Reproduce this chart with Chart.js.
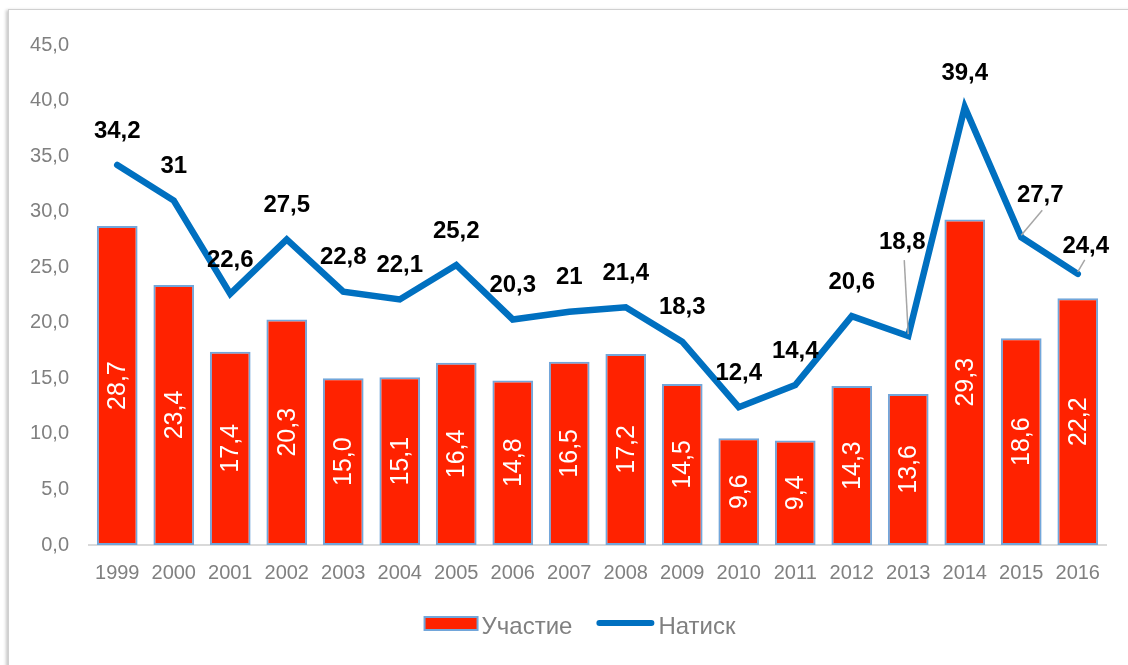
<!DOCTYPE html>
<html><head><meta charset="utf-8">
<script src="https://cdn.jsdelivr.net/npm/chart.js@4/dist/chart.umd.min.js"></script>
<style>
html,body{margin:0;padding:0;background:#fff;overflow:hidden;width:1128px;height:665px}
#frame{position:absolute;left:8px;top:9px;width:1140px;height:680px;border:1px solid #d0d0d0;box-shadow:-2px 1px 3px rgba(0,0,0,0.22);background:#fff}
#wrap{position:absolute;left:0;top:0;width:1128px;height:665px}
</style></head><body>
<div id="frame"></div>
<div id="wrap"><canvas id="c"></canvas></div>
<script>
const years = ['1999','2000','2001','2002','2003','2004','2005','2006','2007','2008','2009','2010','2011','2012','2013','2014','2015','2016'];
const uchastie = [28.7,23.4,17.4,20.3,15.0,15.1,16.4,14.8,16.5,17.2,14.5,9.6,9.4,14.3,13.6,29.3,18.6,22.2];
const natisk = [34.2,31,22.6,27.5,22.8,22.1,25.2,20.3,21,21.4,18.3,12.4,14.4,20.6,18.8,39.4,27.7,24.4];
const seriesNames = ['Участие','Натиск'];
const yMin = 0, yMax = 45, yStep = 5;

const FONT = "'Liberation Sans', Arial, sans-serif";
const RED = '#FF2200', BAR_BORDER = '#72A6DA', BLUE = '#0070C0', GRAY = '#808080';

// label placement for the line values: [dx, dy, leaderEndDx, leaderEndDy] relative to the point
const lineLabelPlacement = {
  default: [0, -34],
  14: [-6, -94, -4, -76],
  16: [19, -42, 21, -27],
  17: [8, -28, 7, -14]
};

const comma = v => String(v).replace('.', ',');

const labelsPlugin = {
  id: 'valueLabels',
  afterDatasetsDraw(chart) {
    const ctx = chart.ctx;
    const barMeta = chart.getDatasetMeta(1);
    ctx.save();
    ctx.fillStyle = '#fff';
    ctx.font = "25px " + FONT;
    ctx.textAlign = 'center';
    ctx.textBaseline = 'middle';
    barMeta.data.forEach((el, i) => {
      const cy = (el.y + el.base) / 2;
      ctx.save();
      ctx.translate(el.x + 1, cy);
      ctx.rotate(-Math.PI / 2);
      ctx.fillText(uchastie[i].toFixed(1).replace('.', ','), 0, 0);
      ctx.restore();
    });
    ctx.restore();
    const lineMeta = chart.getDatasetMeta(0);
    ctx.save();
    ctx.font = "bold 24px " + FONT;
    ctx.textAlign = 'center';
    ctx.textBaseline = 'middle';
    lineMeta.data.forEach((el, i) => {
      const p = lineLabelPlacement[i] || lineLabelPlacement.default;
      const lx = el.x + p[0], ly = el.y + p[1];
      if (p.length > 2) {
        ctx.save();
        ctx.strokeStyle = '#A6A6A6';
        ctx.lineWidth = 1.5;
        ctx.beginPath();
        ctx.moveTo(el.x, el.y - 2);
        ctx.lineTo(el.x + p[2], el.y + p[3]);
        ctx.stroke();
        ctx.restore();
      }
      ctx.fillStyle = '#000';
      ctx.fillText(comma(natisk[i]), lx, ly);
    });
    ctx.restore();
  },
  afterDraw(chart) {
    const ctx = chart.ctx;
    ctx.save();
    ctx.font = "24px " + FONT;
    ctx.textBaseline = 'middle';
    ctx.textAlign = 'left';
    const cy = 624;
    const w1 = ctx.measureText(seriesNames[0]).width;
    const w2 = ctx.measureText(seriesNames[1]).width;
    const box = 53, lineW = 58, gap = 4, between = 24;
    const total = box + gap + w1 + between + lineW + gap + w2;
    let x = chart.width / 2 + 16 - total / 2;
    ctx.fillStyle = RED;
    ctx.fillRect(x, cy - 7, box, 13);
    ctx.strokeStyle = BAR_BORDER;
    ctx.lineWidth = 2;
    ctx.strokeRect(x, cy - 7, box, 13);
    x += box + gap;
    ctx.fillStyle = GRAY;
    ctx.fillText(seriesNames[0], x, cy + 3);
    x += w1 + between;
    ctx.strokeStyle = BLUE;
    ctx.lineWidth = 6;
    ctx.lineCap = 'round';
    ctx.beginPath();
    ctx.moveTo(x + 3, cy - 1);
    ctx.lineTo(x + lineW - 3, cy - 1);
    ctx.stroke();
    x += lineW + gap;
    ctx.fillText(seriesNames[1], x, cy + 3);
    ctx.restore();
  }
};

new Chart(document.getElementById('c'), {
  data: {
    labels: years,
    datasets: [
      {
        type: 'line', label: seriesNames[1], data: natisk,
        borderColor: BLUE, borderWidth: 6.5, tension: 0,
        pointRadius: 0, borderCapStyle: 'round', borderJoinStyle: 'miter', fill: false
      },
      {
        type: 'bar', label: seriesNames[0], data: uchastie,
        backgroundColor: RED, borderColor: BAR_BORDER, borderWidth: 2, borderSkipped: false,
        categoryPercentage: 1.0, barPercentage: 0.72
      }
    ]
  },
  options: {
    responsive: true, maintainAspectRatio: false, animation: false,
    devicePixelRatio: 1,
    layout: { padding: { left: 0, right: 22, top: 45, bottom: 0 } },
    plugins: { legend: { display: false }, tooltip: { enabled: false } },
    scales: {
      x: {
        grid: { display: false },
        border: { display: true, color: '#D9D9D9', width: 2 },
        ticks: { color: GRAY, font: { family: FONT, size: 20 }, padding: 8, maxRotation: 0, autoSkip: false },
        afterFit(s) { s.height = 120; }
      },
      y: {
        min: yMin, max: yMax,
        grid: { display: false },
        border: { display: false },
        ticks: { stepSize: yStep, color: GRAY, font: { family: FONT, size: 20 }, padding: 12,
          callback: v => v.toFixed(1).replace('.', ',') },
        afterFit(s) { s.width = 89; }
      }
    }
  },
  plugins: [labelsPlugin]
});
</script>
</body></html>
